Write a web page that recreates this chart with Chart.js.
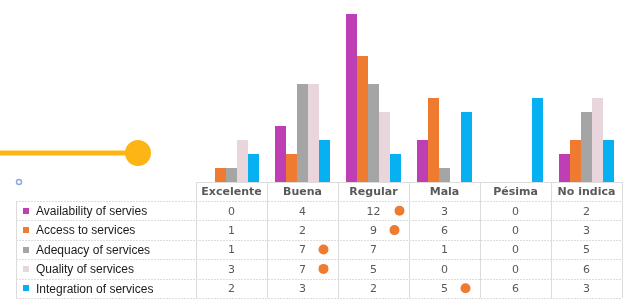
<!DOCTYPE html>
<html>
<head>
<meta charset="utf-8">
<script src="https://cdn.jsdelivr.net/npm/chart.js@4"></script>
<style>
  html, body { margin: 0; padding: 0; background: #fff; }
  #wrap { width: 627px; height: 299px; position: relative; }
</style>
</head>
<body>
<div id="wrap"><canvas id="chart" width="627" height="299"></canvas></div>
<script>
// categories and series
var categories = ['Excelente', 'Buena', 'Regular', 'Mala', 'Pésima', 'No indica'];
var seriesNames = ['Availability of servies', 'Access to services', 'Adequacy of services', 'Quality of services', 'Integration of services'];
var availability = [0, 4, 12, 3, 0, 2];
var access = [1, 2, 9, 6, 0, 3];
var adequacy = [1, 7, 7, 1, 0, 5];
var quality = [3, 7, 5, 0, 0, 6];
var integration = [2, 3, 2, 5, 6, 3];
// [series index, category index] of the orange markers in the table
var highlights = [[0, 2], [1, 2], [2, 1], [3, 1], [4, 3]];

var colors = ['#BE3EB4', '#EE7B30', '#A5A5A5', '#E9D6DD', '#07B0F0'];
var values = [availability, access, adequacy, quality, integration];

var datasets = seriesNames.map(function (name, i) {
	return {
		label: name,
		data: values[i],
		backgroundColor: colors[i],
		borderWidth: 0,
		categoryPercentage: 0.775,
		barPercentage: 1.0
	};
});

// draws the data table under the bars plus the decorations
var tablePlugin = {
	id: 'table',
	afterDraw: function (chart) {
		var ctx = chart.ctx;
		var xs = chart.scales.x;
		var area = chart.chartArea;
		var colW = (area.right - area.left) / categories.length;
		var top = area.bottom;
		var headH = 19;
		var rowH = 19.4;
		var bottom = top + headH + rowH * seriesNames.length;
		var legLeft = 16;

		ctx.save();
		// vertical column lines
		ctx.strokeStyle = '#DCDCDC';
		ctx.lineWidth = 1;
		for (var c = 0; c <= categories.length; c++) {
			var x = Math.round(area.left + c * colW) + 0.5;
			ctx.beginPath();
			ctx.moveTo(x, top);
			ctx.lineTo(x, bottom);
			ctx.stroke();
		}
		ctx.beginPath();
		ctx.moveTo(legLeft + 0.5, top + headH);
		ctx.lineTo(legLeft + 0.5, bottom);
		ctx.stroke();

		// horizontal row lines
		ctx.setLineDash([2, 1]);
		for (var r = 0; r <= seriesNames.length; r++) {
			var y = Math.round(top + headH + r * rowH) + 0.5;
			ctx.beginPath();
			ctx.moveTo(legLeft, y);
			ctx.lineTo(area.right, y);
			ctx.stroke();
		}
		ctx.setLineDash([]);
		ctx.beginPath();
		ctx.moveTo(area.left, top + 0.5);
		ctx.lineTo(area.right, top + 0.5);
		ctx.stroke();

		// header
		ctx.fillStyle = '#595959';
		ctx.font = 'bold 11px "DejaVu Sans"';
		ctx.textAlign = 'center';
		ctx.textBaseline = 'middle';
		categories.forEach(function (cat, i) {
			ctx.fillText(cat, xs.getPixelForValue(i), top + headH / 2 + 1);
		});

		// rows
		seriesNames.forEach(function (name, s) {
			var cy = top + headH + s * rowH + rowH / 2;
			ctx.fillStyle = colors[s];
			ctx.fillRect(23, Math.round(cy) - 3, 6, 6);
			ctx.fillStyle = '#1a1a1a';
			ctx.font = '12px "Liberation Sans"';
			ctx.textAlign = 'left';
			ctx.fillText(name, 36, cy + 1);
			ctx.fillStyle = '#595959';
			ctx.font = '11px "DejaVu Sans"';
			ctx.textAlign = 'center';
			values[s].forEach(function (v, i) {
				ctx.fillText(String(v), xs.getPixelForValue(i), cy + 1);
			});
		});

		// orange markers
		ctx.fillStyle = '#EE7B30';
		highlights.forEach(function (h) {
			var cy = top + headH + h[0] * rowH + rowH / 2;
			var off = values[h[0]][h[1]] >= 10 ? 26 : 21;
			ctx.beginPath();
			ctx.arc(xs.getPixelForValue(h[1]) + off, cy, 5, 0, Math.PI * 2);
			ctx.fill();
		});

		// yellow connector
		ctx.strokeStyle = '#FDB515';
		ctx.lineWidth = 5;
		ctx.beginPath();
		ctx.moveTo(0, 153);
		ctx.lineTo(130, 153);
		ctx.stroke();
		ctx.fillStyle = '#FDB515';
		ctx.beginPath();
		ctx.arc(138, 153, 13, 0, Math.PI * 2);
		ctx.fill();

		// small blue ring
		ctx.strokeStyle = '#8FAADC';
		ctx.lineWidth = 1.5;
		ctx.beginPath();
		ctx.arc(19, 182, 2.5, 0, Math.PI * 2);
		ctx.stroke();
		ctx.restore();
	}
};

new Chart(document.getElementById('chart').getContext('2d'), {
	type: 'bar',
	data: { labels: categories, datasets: datasets },
	options: {
		responsive: false,
		animation: false,
		layout: { padding: { left: 196, right: 5, top: 0, bottom: 117 } },
		plugins: { legend: { display: false }, tooltip: { enabled: false } },
		scales: {
			x: { display: false },
			y: { display: false, min: 0, max: 13 }
		}
	},
	plugins: [tablePlugin]
});
</script>
</body>
</html>
